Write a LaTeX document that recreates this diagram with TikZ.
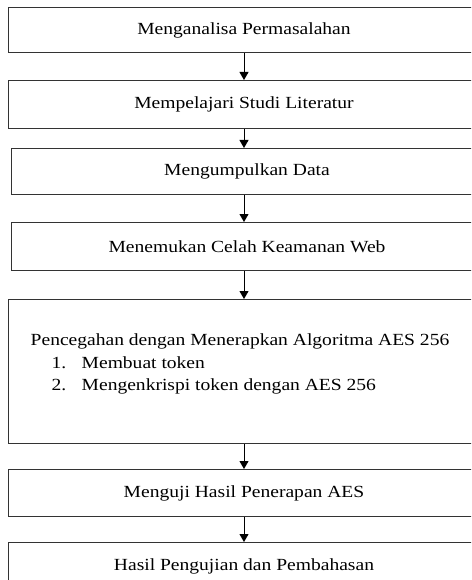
\documentclass[tikz,border=0pt]{standalone}
\usepackage{fontspec}
\setmainfont{Liberation Serif}[FakeStretch=1.15]
\usetikzlibrary{arrows.meta, positioning}

\begin{document}
\begin{tikzpicture}[
    x=1pt, y=1pt,
    node distance=27pt,
    every node/.style={font=\fontsize{17}{22.5}\selectfont},
    stage/.style={draw=black!80, line width=1pt, minimum width=472pt, minimum height=47pt, inner sep=0pt},
    arr/.style={-{Triangle[length=8pt, width=9pt]}, line width=0.9pt}
  ]
  \useasboundingbox (0,0) rectangle (471,-580);
  \clip (0,0) rectangle (471,-580);

  \node[stage, minimum height=45pt, anchor=north] (s1) at (244,-7) {Menganalisa Permasalahan};
  \node[stage, minimum height=48pt, below=of s1] (s2) {Mempelajari Studi Literatur};
  \node[stage, minimum height=46pt, below=19pt of s2, xshift=3pt] (s3) {Mengumpulkan Data};
  \node[stage, minimum height=48pt, below=of s3] (s4) {Menemukan Celah Keamanan Web};
  \node[stage, minimum height=144pt, below=28pt of s4, xshift=-3pt] (s5) {};
  \node[anchor=north west, align=left, inner sep=0pt] (s5txt) at ([xshift=23pt, yshift=-35pt]s5.north west)
    {Pencegahan dengan Menerapkan Algoritma AES 256\\
     \hspace*{21pt}\makebox[30pt][l]{1.}Membuat token\\
     \hspace*{21pt}\makebox[30pt][l]{2.}Mengenkrispi token dengan AES 256};
  \node[stage, minimum height=47pt, below=25pt of s5] (s6) {Menguji Hasil Penerapan AES};
  \node[stage, minimum height=47pt, below=25pt of s6] (s7) {Hasil Pengujian dan Pembahasan};

  \draw[arr] (s1) -- (s2);
  \draw[arr] (s2) -- (s2 |- s3.north);
  \draw[arr] (s2 |- s3.south) -- (s2 |- s4.north);
  \draw[arr] (s2 |- s4.south) -- (s5);
  \draw[arr] (s5) -- (s6);
  \draw[arr] (s6) -- (s7);
\end{tikzpicture}
\end{document}
